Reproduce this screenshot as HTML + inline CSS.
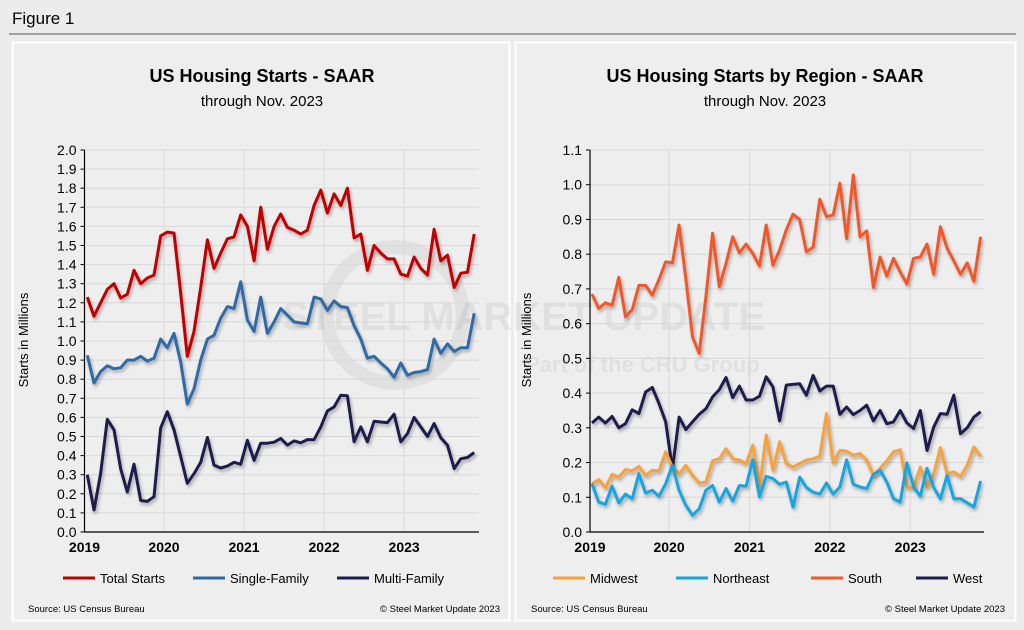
<!DOCTYPE html>
<html><head><meta charset="utf-8">
<style>
body{margin:0;background:#ececec;font-family:"Liberation Sans",Arial,sans-serif;}
svg{display:block}
</style></head>
<body>
<svg id="fig" width="1024" height="630" xmlns="http://www.w3.org/2000/svg">
<defs><filter id="sh" x="-5%" y="-5%" width="110%" height="120%"><feDropShadow dx="1.5" dy="2.5" stdDeviation="1.5" flood-color="#000" flood-opacity="0.3"/></filter></defs>
<rect width="1024" height="630" fill="#ececec"/>
<text x="12" y="24" font-size="17" fill="#000">Figure 1</text>
<line x1="9" y1="34" x2="1016" y2="34" stroke="#555" stroke-width="1"/>
<rect x="12.5" y="42.5" width="497" height="578" fill="#eeeeee" stroke="#fff" stroke-width="2"/>
<rect x="515.5" y="42.5" width="500" height="578" fill="#eeeeee" stroke="#fff" stroke-width="2"/>
<g fill="#000" fill-opacity="0.06">
<circle cx="395" cy="315" r="68" fill="none" stroke="#000" stroke-opacity="0.05" stroke-width="14"/>
<text x="282" y="330" font-size="40" font-weight="bold">STEEL MARKET UPDATE</text>
<text x="525" y="372" font-size="22" font-weight="bold">Part of the CRU Group</text>
</g>
<g id="L"></g><g id="R"></g>
</svg>
<script>
const months = 59;
const yearLabels = ["2019","2020","2021","2022","2023"];
const totalStarts = [1.23,1.13,1.20,1.27,1.30,1.225,1.245,1.37,1.30,1.33,1.345,1.55,1.57,1.565,1.25,0.92,1.05,1.28,1.53,1.38,1.46,1.535,1.545,1.66,1.60,1.42,1.70,1.48,1.60,1.665,1.595,1.58,1.56,1.58,1.71,1.79,1.67,1.77,1.71,1.80,1.54,1.56,1.37,1.50,1.46,1.43,1.43,1.35,1.34,1.44,1.38,1.345,1.585,1.42,1.45,1.28,1.355,1.36,1.56];
const singleFamily = [0.925,0.78,0.84,0.87,0.855,0.86,0.90,0.90,0.92,0.895,0.91,1.01,0.965,1.04,0.89,0.67,0.75,0.90,1.01,1.03,1.12,1.18,1.17,1.31,1.11,1.05,1.23,1.04,1.10,1.17,1.135,1.10,1.095,1.09,1.23,1.22,1.16,1.21,1.18,1.175,1.08,1.01,0.91,0.92,0.885,0.855,0.81,0.885,0.82,0.835,0.84,0.85,1.01,0.935,0.985,0.945,0.965,0.965,1.145];
const multiFamily = [0.30,0.115,0.305,0.59,0.535,0.33,0.21,0.355,0.165,0.16,0.185,0.545,0.63,0.535,0.395,0.255,0.305,0.365,0.495,0.35,0.335,0.345,0.365,0.355,0.48,0.375,0.465,0.465,0.47,0.49,0.455,0.477,0.467,0.484,0.484,0.55,0.634,0.655,0.716,0.713,0.472,0.55,0.472,0.58,0.576,0.573,0.617,0.472,0.515,0.60,0.55,0.50,0.568,0.493,0.454,0.332,0.384,0.39,0.416];
const midwest = [0.139,0.151,0.128,0.166,0.158,0.18,0.176,0.189,0.163,0.178,0.176,0.231,0.187,0.168,0.192,0.163,0.141,0.144,0.205,0.211,0.24,0.211,0.207,0.197,0.25,0.13,0.279,0.178,0.26,0.197,0.187,0.197,0.207,0.211,0.218,0.341,0.199,0.235,0.233,0.221,0.226,0.207,0.163,0.183,0.205,0.231,0.237,0.13,0.128,0.187,0.13,0.168,0.243,0.168,0.173,0.16,0.192,0.245,0.218];
const northeast = [0.139,0.086,0.08,0.132,0.084,0.109,0.096,0.168,0.112,0.12,0.103,0.139,0.192,0.12,0.077,0.048,0.067,0.12,0.134,0.086,0.125,0.089,0.134,0.132,0.208,0.101,0.16,0.154,0.137,0.144,0.072,0.158,0.128,0.115,0.109,0.141,0.109,0.13,0.208,0.137,0.13,0.125,0.166,0.178,0.144,0.096,0.086,0.199,0.13,0.103,0.183,0.128,0.096,0.163,0.096,0.096,0.084,0.072,0.147];
const south = [0.685,0.644,0.66,0.653,0.733,0.62,0.64,0.71,0.71,0.682,0.727,0.778,0.775,0.884,0.73,0.562,0.514,0.677,0.86,0.706,0.773,0.85,0.804,0.829,0.802,0.766,0.884,0.768,0.812,0.87,0.915,0.90,0.807,0.82,0.958,0.908,0.913,1.004,0.845,1.028,0.85,0.867,0.704,0.792,0.737,0.788,0.749,0.714,0.788,0.792,0.829,0.742,0.879,0.817,0.781,0.742,0.775,0.722,0.85];
const west = [0.314,0.331,0.314,0.333,0.30,0.312,0.352,0.341,0.403,0.416,0.37,0.317,0.18,0.331,0.295,0.317,0.339,0.355,0.389,0.41,0.445,0.387,0.42,0.38,0.38,0.391,0.447,0.418,0.32,0.423,0.425,0.427,0.394,0.451,0.406,0.42,0.42,0.339,0.36,0.338,0.35,0.365,0.32,0.35,0.312,0.317,0.35,0.314,0.298,0.35,0.235,0.302,0.341,0.339,0.394,0.283,0.30,0.331,0.346];

const NS="http://www.w3.org/2000/svg";
function mk(parent,tag,attrs,text){const e=document.createElementNS(NS,tag);for(const k in attrs)e.setAttribute(k,attrs[k]);if(text!==undefined)e.textContent=text;parent.appendChild(e);return e;}

function chart(g,cfg){
  const xs=i=>cfg.x0+i*cfg.dx;
  const ys=v=>cfg.yBot-(v/cfg.yMax)*(cfg.yBot-cfg.yTop);
  const t1=mk(g,'text',{x:cfg.cx,y:82,'text-anchor':'middle','font-size':18,'font-weight':'bold'},cfg.title);
  
  
  const t2=mk(g,'text',{x:cfg.cx,y:106,'text-anchor':'middle','font-size':15},'through Nov. 2023');
  
  
  const nt=Math.round(cfg.yMax/0.1);
  for(let k=0;k<=nt;k++){
    const v=k*0.1,y=ys(v);
    if(k>0)mk(g,'line',{x1:cfg.ax,x2:cfg.xR,y1:y,y2:y,stroke:'#d8d8d8','stroke-width':1});
    mk(g,'line',{x1:cfg.ax-4,x2:cfg.ax,y1:y,y2:y,stroke:'#000','stroke-width':1});
    const lb=mk(g,'text',{x:cfg.ax-8,y:y+5,'text-anchor':'end','font-size':14},v.toFixed(1));
    
    
  }
  yearLabels.forEach((yl,j)=>{
    const x=xs(j*12)-cfg.dx*0.5;
    if(j>0)mk(g,'line',{x1:x,x2:x,y1:cfg.yTop,y2:cfg.yBot,stroke:'#d8d8d8','stroke-width':1});
    const lb=mk(g,'text',{x:j==0?cfg.ax:x,y:cfg.yBot+20,'text-anchor':'middle','font-size':14,'font-weight':'bold'},yl);
    
    
  });
  mk(g,'line',{x1:cfg.ax,x2:cfg.ax,y1:cfg.yTop,y2:cfg.yBot,stroke:'#000','stroke-width':1.2});
  mk(g,'line',{x1:cfg.ax,x2:cfg.xR,y1:cfg.yBot,y2:cfg.yBot,stroke:'#000','stroke-width':1.2});
  const yt=mk(g,'text',{x:0,y:0,'text-anchor':'middle','font-size':13,transform:`translate(${cfg.ytx},340) rotate(-90)`},'Starts in Millions');
  
  
  cfg.series.forEach(s=>{
    const d=s.data.map((v,i)=>(i?'L':'M')+xs(i).toFixed(1)+' '+ys(v).toFixed(1)).join(' ');
    const p=mk(g,'path',{d:d,fill:'none',stroke:s.color,'stroke-width':3,'stroke-linejoin':'round',filter:'url(#sh)'});
    
    
    const lx=s.lx;
    mk(g,'line',{x1:lx,x2:lx+32,y1:578,y2:578,stroke:s.color,'stroke-width':3});
    const lt=mk(g,'text',{x:lx+37,y:583,'font-size':13},s.label);
    
    
  });
  const s1=mk(g,'text',{x:cfg.srcx,y:612,'font-size':9.5},'Source: US Census Bureau');
  
  
  const s2=mk(g,'text',{x:cfg.cpx,y:612,'font-size':9.5,'text-anchor':'end'},'© Steel Market Update 2023');
  
  
}
chart(document.getElementById('L'),{title:'US Housing Starts - SAAR',cx:262,ax:84.5,xR:479,x0:87.3,dx:6.67,yTop:150,yBot:532,yMax:2.0,ytx:28,srcx:28,cpx:500,
  series:[{data:totalStarts,color:'#c00000',name:'total-starts',label:'Total Starts',lx:63},
          {data:singleFamily,color:'#2e6aa8',name:'single-family',label:'Single-Family',lx:193},
          {data:multiFamily,color:'#1a1f4e',name:'multi-family',label:'Multi-Family',lx:337}]});
chart(document.getElementById('R'),{title:'US Housing Starts by Region - SAAR',cx:765,ax:590,xR:984,x0:592,dx:6.7,yTop:150,yBot:532,yMax:1.1,ytx:531,srcx:531,cpx:1005,
  series:[{data:south,color:'#f0582a',name:'south',label:'South',lx:811},
          {data:west,color:'#1a1f4e',name:'west',label:'West',lx:916},
          {data:midwest,color:'#f7a23e',name:'midwest',label:'Midwest',lx:553},
          {data:northeast,color:'#14a5e0',name:'northeast',label:'Northeast',lx:676}]});
</script>
</body></html>
